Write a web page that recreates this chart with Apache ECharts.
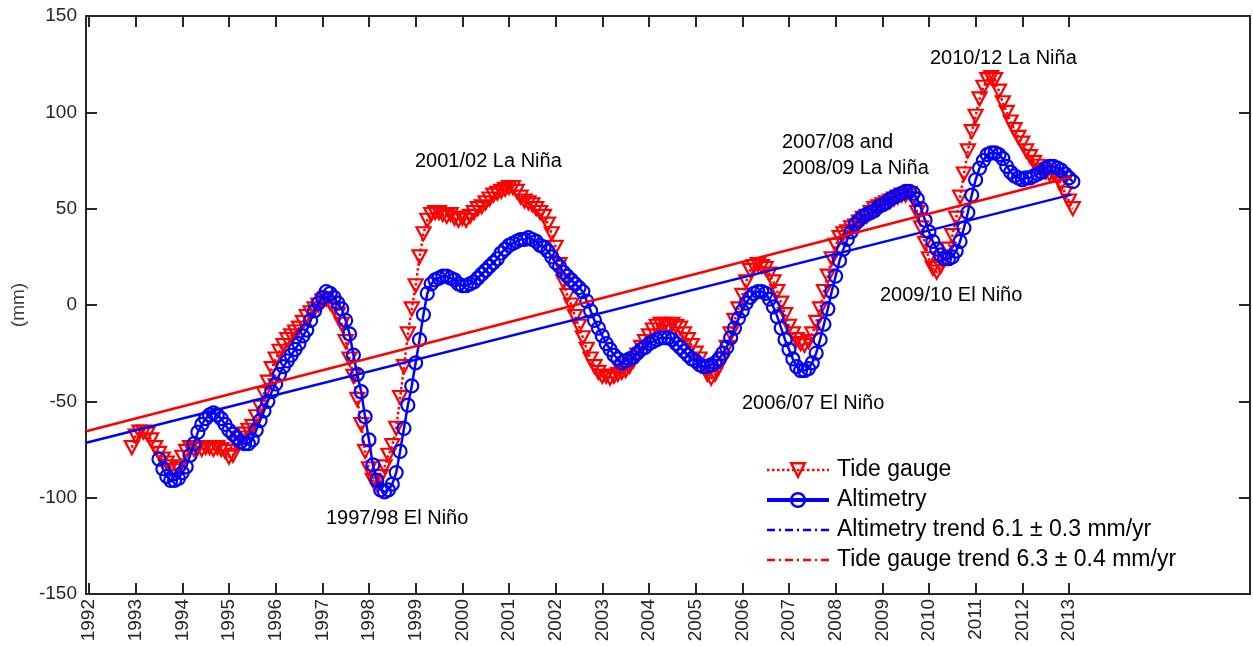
<!DOCTYPE html>
<html>
<head>
<meta charset="utf-8">
<script src="https://cdn.jsdelivr.net/npm/echarts@6/dist/echarts.min.js"></script>
<style>
html,body{margin:0;padding:0;background:#fff;}
#chart{width:1253px;height:646px;}
</style>
</head>
<body>
<div id="chart"></div>
<script>
// ---- data ----
const yearTicks = [1992,1993,1994,1995,1996,1997,1998,1999,2000,2001,2002,2003,2004,2005,2006,2007,2008,2009,2010,2011,2012,2013];

// Tide gauge, monthly, first month at 1992.917
const tideStart = 1992.917;
const tideGauge = [
 -74,-68,-66,-66,-67,-70,-74,-77,-80,-82,-84,-86,
 -85,-79,-76,-74,-75,-74,-75,-74,-74,-75,-74,-75,
 -76,-79,-78,-72,-69,-67,-65,-63,-58,-53,-46,-40,
 -33,-28,-24,-21,-18,-16,-14,-12,-9,-6,-4,-2,
 0,2,3,1,-2,-5,-10,-19,-28,-37,-49,-62,
 -76,-85,-91,-93,-89,-84,-78,-73,-64,-48,-32,-15,
 -2,10,25,37,44,47,48,48,47,46,47,45,
 44,45,44,46,48,50,51,53,55,57,58,59,
 60,61,61,59,56,54,53,52,50,48,46,42,
 37,30,21,12,5,0,-6,-11,-17,-23,-28,-32,
 -35,-37,-37,-38,-37,-36,-35,-34,-32,-29,-26,-22,
 -19,-16,-13,-11,-10,-10,-11,-10,-11,-12,-15,-18,
 -21,-25,-28,-32,-36,-38,-36,-32,-28,-22,-15,-8,
 -2,5,12,18,20,21,20,19,16,12,7,1,
 -5,-11,-15,-18,-20,-21,-19,-15,-9,-2,7,15,
 24,31,35,37,38,40,41,43,45,46,48,50,
 51,52,53,54,55,56,57,57,58,55,48,40,
 32,24,19,17,20,24,29,36,45,56,68,80,
 90,98,107,113,117,118,117,111,105,100,95,91,
 87,84,80,77,74,72,70,69,68,68,66,63,
 58,54,50
];

// Altimetry, monthly, first month at 1993.5
const altStart = 1993.5;
const altimetry = [
 -80,-85,-89,-91,-91,
 -90,-87,-84,-78,-72,-66,-62,-59,-57,-56,-57,-59,
 -62,-65,-67,-69,-71,-72,-72,-70,-65,-60,-55,-50,
 -45,-41,-36,-32,-29,-26,-23,-20,-16,-13,-8,-3,
 1,4,7,6,4,1,-2,-8,-15,-26,-36,-45,
 -58,-70,-83,-91,-96,-97,-96,-93,-87,-76,-64,-52,
 -42,-30,-18,-5,6,11,13,14,15,15,14,13,
 11,10,10,11,12,14,16,18,20,22,24,27,
 29,31,32,33,34,34,35,34,33,31,30,28,
 25,22,20,17,15,13,11,9,7,2,-3,-8,
 -12,-16,-20,-23,-26,-28,-30,-29,-28,-27,-25,-23,
 -22,-20,-19,-18,-17,-17,-17,-18,-20,-22,-24,-26,
 -28,-29,-31,-32,-32,-31,-30,-28,-25,-22,-17,-12,
 -7,-3,1,4,6,7,7,6,3,-1,-6,-12,
 -18,-23,-28,-32,-34,-34,-33,-30,-25,-18,-10,-2,
 7,15,23,29,34,38,42,44,46,47,48,49,
 51,52,53,55,56,57,58,59,59,58,55,50,
 44,38,33,29,26,24,24,25,28,33,40,48,
 57,65,71,75,78,79,79,78,76,72,69,67,
 66,65,66,66,67,68,69,71,72,72,71,70,
 68,66,64
];

// Linear trends: values at the start and end years
const trendYears = [1991.94, 2013.05];
const altTrend = [-71.5, 57.3];
const tideTrend = [-65.5, 66.4];

const names = {
  tide: 'Tide gauge',
  alt: 'Altimetry',
  altT: 'Altimetry trend 6.1 \u00b1 0.3 mm/yr',
  tideT: 'Tide gauge trend 6.3 \u00b1 0.4 mm/yr'
};

const annotations = [
  {text:'2010/12 La Ni\u00f1a', x:930, y:59},
  {text:'2007/08 and', x:782, y:143},
  {text:'2008/09 La Ni\u00f1a', x:782, y:169},
  {text:'2001/02 La Ni\u00f1a', x:415, y:162},
  {text:'2009/10 El Ni\u00f1o', x:880, y:296},
  {text:'2006/07 El Ni\u00f1o', x:742, y:404},
  {text:'1997/98 El Ni\u00f1o', x:326, y:519}
];

// ---- chart ----
const FONT = "'Liberation Sans', Arial, Helvetica, sans-serif";
const AX = '#262626';
const RED = '#ff0000', BLUE = '#0000ff';
const XMIN = 1991.936, XMAX = 2016.88;
const DASHDOT = [8,4,2,4];

const tideData = tideGauge.map((v,i)=>[tideStart + i/12, v]);
const altData = altimetry.map((v,i)=>[altStart + i/12, v]);
const altTrendData = trendYears.map((t,i)=>[t, altTrend[i]]);
const tideTrendData = trendYears.map((t,i)=>[t, tideTrend[i]]);

const chart = echarts.init(document.getElementById('chart'), null, {renderer:'canvas'});

const xBase = {
  type:'value', min:XMIN, max:XMAX,
  splitLine:{show:false},
  axisLine:{show:true, onZero:false, lineStyle:{color:AX, width:2}},
  axisTick:{show:true, inside:true, length:11, customValues:yearTicks, lineStyle:{color:AX, width:2}}
};
const yBase = {
  type:'value', min:-150, max:150, interval:50,
  splitLine:{show:false},
  axisLine:{show:true, onZero:false, lineStyle:{color:AX, width:2}},
  axisTick:{show:true, inside:true, length:11, lineStyle:{color:AX, width:2}}
};
const HIDE = {color:'rgba(0,0,0,0)', borderColor:'rgba(0,0,0,0)', borderWidth:0};

chart.setOption({
  animation:false,
  backgroundColor:'#ffffff',
  textStyle:{fontFamily:FONT},
  grid:{left:86, right:3, top:16, bottom:52, containLabel:false},
  xAxis:[
    Object.assign({}, xBase, {
      position:'bottom',
      axisLabel:{show:true, customValues:yearTicks, rotate:90, margin:5,
        fontSize:19, color:AX, fontFamily:FONT, formatter:v=>String(Math.round(v))}
    }),
    Object.assign({}, xBase, {position:'top', axisLabel:{show:false}})
  ],
  yAxis:[
    Object.assign({}, yBase, {
      position:'left',
      axisLabel:{show:true, fontSize:19, color:AX, fontFamily:FONT, margin:9},
      name:'(mm)', nameLocation:'middle', nameRotate:90, nameGap:58,
      nameTextStyle:{fontSize:19, color:'#404040', fontFamily:FONT}
    }),
    Object.assign({}, yBase, {position:'right', axisLabel:{show:false}})
  ],
  legend:{
    orient:'vertical', left:765, top:458, padding:0,
    itemWidth:62, itemHeight:17, itemGap:6,
    selectedMode:false,
    data:[
      {name:names.tide, lineStyle:{width:2.5}, itemStyle:{borderWidth:2.5}},
      {name:names.alt, lineStyle:{width:4}, itemStyle:{borderWidth:2.5}},
      {name:names.altT, itemStyle:HIDE, lineStyle:{width:2.5}},
      {name:names.tideT, itemStyle:HIDE, lineStyle:{width:2.5}}
    ],
    textStyle:{fontSize:23, color:'#000', fontFamily:FONT, lineHeight:24, padding:[0,0,0,3]}
  },
  series:[
    {
      name:names.tide, type:'line', data:tideData,
      symbol:'triangle', symbolRotate:180, symbolSize:[14,13],
      lineStyle:{color:RED, width:2.5, type:'dotted'},
      itemStyle:{color:'rgba(255,255,255,0)', borderColor:RED, borderWidth:2.2},
      z:2
    },
    {
      name:names.alt, type:'line', data:altData,
      symbol:'circle', symbolSize:13,
      lineStyle:{color:BLUE, width:2.5, type:'solid'},
      itemStyle:{color:'rgba(255,255,255,0)', borderColor:BLUE, borderWidth:2.2},
      z:3
    },
    {
      name:'altTrendLine', type:'line', data:altTrendData, symbol:'none',
      lineStyle:{color:BLUE, width:2.5}, itemStyle:{color:BLUE}, z:4
    },
    {
      name:'tideTrendLine', type:'line', data:tideTrendData, symbol:'none',
      lineStyle:{color:RED, width:2.5}, itemStyle:{color:RED}, z:4
    },
    {
      name:names.altT, type:'line', data:[], symbol:'none',
      itemStyle:HIDE,
      lineStyle:{color:BLUE, width:2.5, type:DASHDOT}
    },
    {
      name:names.tideT, type:'line', data:[], symbol:'none',
      itemStyle:HIDE,
      lineStyle:{color:RED, width:2.5, type:DASHDOT}
    }
  ],
  graphic: annotations.map(a=>({
    type:'text', left:a.x, top:a.y-11, z:10,
    style:{text:a.text, fontSize:20, fontFamily:FONT, fill:'#000'}
  }))
});
</script>
</body>
</html>
